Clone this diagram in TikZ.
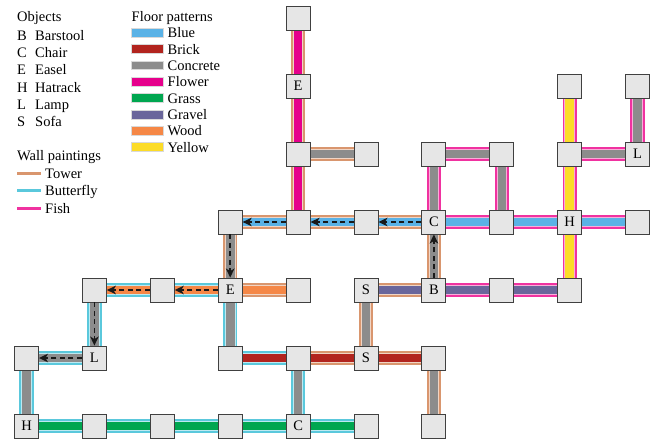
\documentclass[tikz,border=0pt]{standalone}
\usepackage{fontspec}
\setmainfont{Liberation Serif}
\usetikzlibrary{arrows.meta}
\definecolor{tower}{HTML}{D9966E}
\definecolor{butterfly}{HTML}{5AC8DC}
\definecolor{fish}{HTML}{F032A0}
\definecolor{blue}{HTML}{5AB2E6}
\definecolor{brick}{HTML}{B2241E}
\definecolor{concrete}{HTML}{8C8C8C}
\definecolor{flower}{HTML}{E6008C}
\definecolor{grass}{HTML}{00A650}
\definecolor{gravel}{HTML}{6A669B}
\definecolor{wood}{HTML}{F58746}
\definecolor{yellow}{HTML}{FCDC28}
\definecolor{roomfill}{HTML}{E6E6E6}
\definecolor{roomline}{HTML}{404040}
\pgfdeclarelayer{bg}
\pgfsetlayers{bg,main}
\tikzset{
  room/.style={rectangle, draw=roomline, fill=roomfill, line width=0.9pt,
    minimum size=24pt, inner sep=0pt},
  flow/.style={draw=black!90, line width=1.8pt, dash pattern=on 5pt off 3.5pt,
    -{Stealth[length=9pt,width=8.5pt,inset=2.5pt]}},
  txt/.style={anchor=base west, inner sep=0pt},
  swatch/.style={draw=white!70!gray, line width=0.4pt},
}
\begin{document}
\begin{tikzpicture}[x=1pt,y=-1pt,font=\fontsize{14.5}{17}\selectfont]
\useasboundingbox (0,0) rectangle (654,439);
% rooms
\foreach \c/\r/\t in {4/0/{},4/1/E,8/1/{},9/1/{},
  4/2/{},5/2/{},6/2/{},7/2/{},8/2/{},9/2/L,
  3/3/{},4/3/{},5/3/{},6/3/C,7/3/{},8/3/H,9/3/{},
  1/4/{},2/4/{},3/4/E,4/4/{},5/4/S,6/4/B,7/4/{},8/4/{},
  0/5/{},1/5/L,3/5/{},4/5/{},5/5/S,6/5/{},
  0/6/H,1/6/{},2/6/{},3/6/{},4/6/C,5/6/{},6/6/{}}
  {\node[room] (n\c\r) at ({26.5+67.9*\c},{18+68*\r}) {\t};}
% corridors
\begin{pgfonlayer}{bg}
\foreach \a/\b/\f/\w in {
  40/41/flower/tower, 41/42/flower/tower, 42/43/flower/tower,
  42/52/concrete/tower,
  33/43/blue/tower, 43/53/blue/tower, 53/63/blue/tower,
  63/73/blue/fish, 73/83/blue/fish, 83/93/blue/fish,
  62/72/concrete/fish, 62/63/concrete/fish, 72/73/concrete/fish,
  81/82/yellow/fish, 82/83/yellow/fish, 83/84/yellow/fish,
  82/92/concrete/fish, 91/92/concrete/fish,
  63/64/concrete/tower,
  54/64/gravel/tower, 64/74/gravel/fish, 74/84/gravel/fish,
  33/34/concrete/tower, 34/44/wood/tower,
  24/34/wood/butterfly, 14/24/wood/butterfly,
  14/15/concrete/butterfly, 05/15/concrete/butterfly, 05/06/concrete/butterfly,
  06/16/grass/butterfly, 16/26/grass/butterfly, 26/36/grass/butterfly,
  36/46/grass/butterfly, 46/56/grass/butterfly,
  34/35/concrete/butterfly, 35/45/brick/butterfly,
  45/55/brick/tower, 55/65/brick/tower,
  54/55/concrete/tower, 45/46/concrete/butterfly, 65/66/concrete/tower}
{
  \draw[line width=14.4pt, color=\w] (n\a.center) -- (n\b.center);
  \draw[line width=10.6pt, color=\w!40!white] (n\a.center) -- (n\b.center);
  \draw[line width=8.6pt, color=\f] (n\a.center) -- (n\b.center);
}
\end{pgfonlayer}
% route arrows
\draw[flow] (n63) -- (n53);
\draw[flow] (n53) -- (n43);
\draw[flow] (n43) -- (n33);
\draw[flow] (n33) -- (n34);
\draw[flow] (n34) -- (n24);
\draw[flow] (n24) -- (n14);
\draw[flow] (n14) -- (n15);
\draw[flow] (n15) -- (n05);
\draw[flow] (n64) -- (n63);
% legend: objects
\node[txt] (objt) at (17,21) {Objects};
\foreach \k/\l/\n in {0/B/Barstool,1/C/Chair,2/E/Easel,3/H/Hatrack,4/L/Lamp,5/S/Sofa}
{
  \node[txt] (objl\k) at (17,{40+17.35*\k}) {\l};
  \node[txt] (objn\k) at (35,{40+17.35*\k}) {\n};
}
% legend: wall paintings
\node[txt] (wallt) at (17,160) {Wall paintings};
\foreach \k/\c/\n in {0/tower/Tower,1/butterfly/Butterfly,2/fish/Fish}
{
  \coordinate (wa\k) at (17,{173.2+17.5*\k});
  \coordinate (wb\k) at (41,{173.2+17.5*\k});
  \draw[line width=3.3pt, color=\c] (wa\k) -- (wb\k);
  \node[txt] (wn\k) at (45,{178.2+17.5*\k}) {\n};
}
% legend: floor patterns
\node[txt] (floort) at (131.5,21) {Floor patterns};
\foreach \k/\c/\n in {0/blue/Blue,1/brick/Brick,2/concrete/Concrete,3/flower/Flower,
  4/grass/Grass,5/gravel/Gravel,6/wood/Wood,7/yellow/Yellow}
{
  \node[swatch, fill=\c, rectangle, minimum width=32pt, minimum height=8.8pt, inner sep=0pt]
    (fs\k) at (147.5,{32.5+16.36*\k}) {};
  \node[txt] (fn\k) at (167.5,{37.8+16.36*\k}) {\n};
}
\end{tikzpicture}
\end{document}
